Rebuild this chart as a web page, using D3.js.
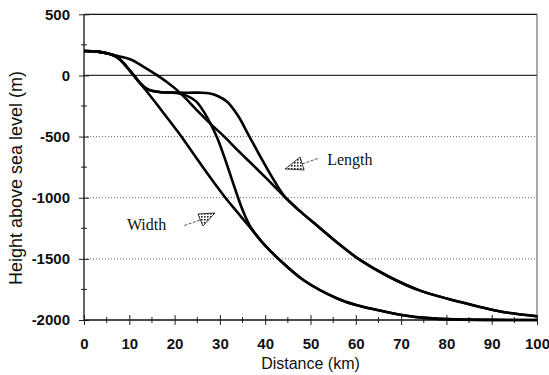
<!DOCTYPE html>
<html>
<head>
<meta charset="utf-8">
<script src="https://cdn.jsdelivr.net/npm/d3@7"></script>
<style>
  body { margin: 0; background: #fff; }
  svg { display: block; }
</style>
</head>
<body>
<script>
// profiles: [distance km, height m]
const startPts = [[0, 200], [3, 195], [5.5, 178]];

const widthTail = [[38.3, -1318], [40, -1392], [43, -1502], [48.5, -1675], [55.9, -1824],
  [60.3, -1880], [63.2, -1906], [70.5, -1961], [76, -1985], [82, -1995], [90, -1999], [100, -2000]];
const lengthTail = [[44.5, -1000], [48, -1120], [52, -1245], [56, -1370], [61, -1511],
  [67, -1640], [74.2, -1760], [83, -1852], [92.5, -1934], [100, -1969]];

const widthA = [[7, 155], [8.5, 110], [10, 45], [11, 0], [12.5, -68], [14, -137], [17, -280],
  [20.6, -455], [24, -632], [27, -790], [31, -990], [34, -1125], [36.8, -1250]];
const widthB = [[7, 155], [8.5, 110], [10, 45], [11, 0], [12.5, -68], [13.8, -108], [15.2, -128],
  [17, -137], [19, -140], [20.8, -145], [22.5, -163], [24.7, -210], [26.5, -300],
  [28, -400], [29.4, -510], [31, -670], [33, -890], [34.9, -1090], [36.6, -1228]];
const lengthA = [[7, 163], [8.5, 150], [10.3, 130], [13, 75], [16.2, 0], [18.5, -60], [20.6, -122],
  [22.5, -190], [25, -288], [28, -398], [31.2, -509], [34, -615], [37, -722], [40, -832]];
const lengthB = [[7, 155], [8.5, 110], [10, 45], [11, 0], [12.5, -68], [13.8, -108], [15.2, -128],
  [17, -137], [20, -140], [23, -141], [26, -141], [27.8, -148], [29.5, -168],
  [31.6, -215], [34, -330], [36.4, -492], [39, -668], [42.3, -880]];

const xTicks = [0, 10, 20, 30, 40, 50, 60, 70, 80, 90, 100];
const yTicks = [500, 0, -500, -1000, -1500, -2000];
const dottedLevels = [-500, -1000, -1500];

const series = [
  startPts.concat(widthA, widthTail),
  startPts.concat(widthB, widthTail),
  startPts.concat(lengthA, lengthTail),
  startPts.concat(lengthB, lengthTail)
];

const W = 549, H = 375;
const svg = d3.select("body").append("svg").attr("width", W).attr("height", H);

const x = d3.scaleLinear().domain([0, 100]).range([84, 537]);
const y = d3.scaleLinear().domain([-2000, 500]).range([320, 14.3]);

// hatch for arrow heads
svg.append("defs").append("pattern")
  .attr("id", "hatch").attr("width", 3).attr("height", 3)
  .attr("patternUnits", "userSpaceOnUse")
  .call(p => {
    p.append("rect").attr("width", 3).attr("height", 3).attr("fill", "#fff");
    p.append("rect").attr("width", 1.6).attr("height", 1.6).attr("fill", "#222");
  });

// grid
svg.selectAll(".dot-grid").data(dottedLevels).enter().append("line")
  .attr("x1", x(0)).attr("x2", x(100))
  .attr("y1", d => y(d)).attr("y2", d => y(d))
  .attr("stroke", "#666").attr("stroke-width", 1).attr("stroke-dasharray", "1,2");

svg.append("line").attr("x1", x(0)).attr("x2", x(100))
  .attr("y1", y(0)).attr("y2", y(0)).attr("stroke", "#333").attr("stroke-width", 1.2);
svg.append("line").attr("x1", x(0)).attr("x2", x(100))
  .attr("y1", y(500)).attr("y2", y(500)).attr("stroke", "#111").attr("stroke-width", 1.3);
svg.append("line").attr("x1", x(100)).attr("x2", x(100))
  .attr("y1", y(500)).attr("y2", y(-2000)).attr("stroke", "#555").attr("stroke-width", 1);

// minor ticks
svg.append("g").selectAll("line").data(d3.range(-2000, 501, 250).filter(d => d % 500 !== 0))
  .enter().append("line")
  .attr("x1", x(0) - 3).attr("x2", x(0) + 3)
  .attr("y1", d => y(d)).attr("y2", d => y(d)).attr("stroke", "#222");
svg.append("g").selectAll("line").data(d3.range(5, 100, 10))
  .enter().append("line")
  .attr("y1", y(-2000) - 3).attr("y2", y(-2000) + 3)
  .attr("x1", d => x(d)).attr("x2", d => x(d)).attr("stroke", "#222");

// axes
const yAxis = svg.append("g").attr("transform", `translate(${x(0)},0)`)
  .call(d3.axisLeft(y).tickValues(yTicks).tickFormat(d => String(d)).tickSize(5).tickPadding(9));
yAxis.selectAll(".tick line").attr("x1", -5).attr("x2", 5);

const xAxis = svg.append("g").attr("transform", `translate(0,${y(-2000)})`)
  .call(d3.axisBottom(x).tickValues(xTicks).tickFormat(d => String(d)).tickSize(5).tickPadding(13));
xAxis.selectAll(".tick line").attr("y1", -5).attr("y2", 5);

[yAxis, xAxis].forEach(a => {
  a.select(".domain").attr("stroke", "#111").attr("stroke-width", 1.3);
  a.selectAll(".tick line").attr("stroke", "#222");
  a.selectAll("text")
    .attr("font-family", "Liberation Sans, Arial, sans-serif")
    .attr("font-weight", "bold").attr("font-size", "15px").attr("fill", "#111");
});
yAxis.select(".domain").attr("d", `M0,${y(500)}V${y(-2000)}`);
xAxis.select(".domain").attr("d", `M${x(0)},0H${x(100)}`);

// profiles
const line = d3.line().x(d => x(d[0])).y(d => y(d[1])).curve(d3.curveCatmullRom.alpha(0.5));
svg.selectAll(".profile").data(series).enter().append("path")
  .attr("d", line).attr("fill", "none")
  .attr("stroke", "#000").attr("stroke-width", 2.6).attr("stroke-linejoin", "round");

// axis titles
svg.append("text")
  .attr("x", (x(0) + x(100)) / 2).attr("y", 369)
  .attr("text-anchor", "middle")
  .attr("font-family", "Liberation Sans, Arial, sans-serif").attr("font-size", "16px")
  .attr("fill", "#111")
  .text("Distance (km)");
svg.append("text")
  .attr("transform", "translate(22,178) rotate(-90)")
  .attr("text-anchor", "middle")
  .attr("font-family", "Liberation Sans, Arial, sans-serif").attr("font-size", "18px")
  .attr("fill", "#111")
  .text("Height above sea level (m)");

// annotations: arrow tip in data units, drawing offsets in px
const notes = [
  { label: "Length", tip: [44.4, -765], head: [[15, -12], [19, 1]], dash: [[17, -5], [34, -11]], text: [42, -4] },
  { label: "Width", tip: [28.9, -1125], head: [[-17, 1], [-12, 13]], dash: [[-15, 7], [-32, 13]], text: [-88, 17] }
];
notes.forEach(n => {
  const tx = x(n.tip[0]), ty = y(n.tip[1]);
  svg.append("path")
    .attr("d", `M${tx},${ty}L${tx + n.head[0][0]},${ty + n.head[0][1]}L${tx + n.head[1][0]},${ty + n.head[1][1]}Z`)
    .attr("fill", "url(#hatch)").attr("stroke", "#111").attr("stroke-width", 0.8);
  svg.append("line")
    .attr("x1", tx + n.dash[0][0]).attr("y1", ty + n.dash[0][1])
    .attr("x2", tx + n.dash[1][0]).attr("y2", ty + n.dash[1][1])
    .attr("stroke", "#222").attr("stroke-width", 0.8).attr("stroke-dasharray", "3,1.5");
  svg.append("text")
    .attr("x", tx + n.text[0]).attr("y", ty + n.text[1])
    .attr("font-family", "Liberation Serif, Times New Roman, serif").attr("font-size", "16px")
    .attr("fill", "#111")
    .text(n.label);
});
</script>
</body>
</html>
